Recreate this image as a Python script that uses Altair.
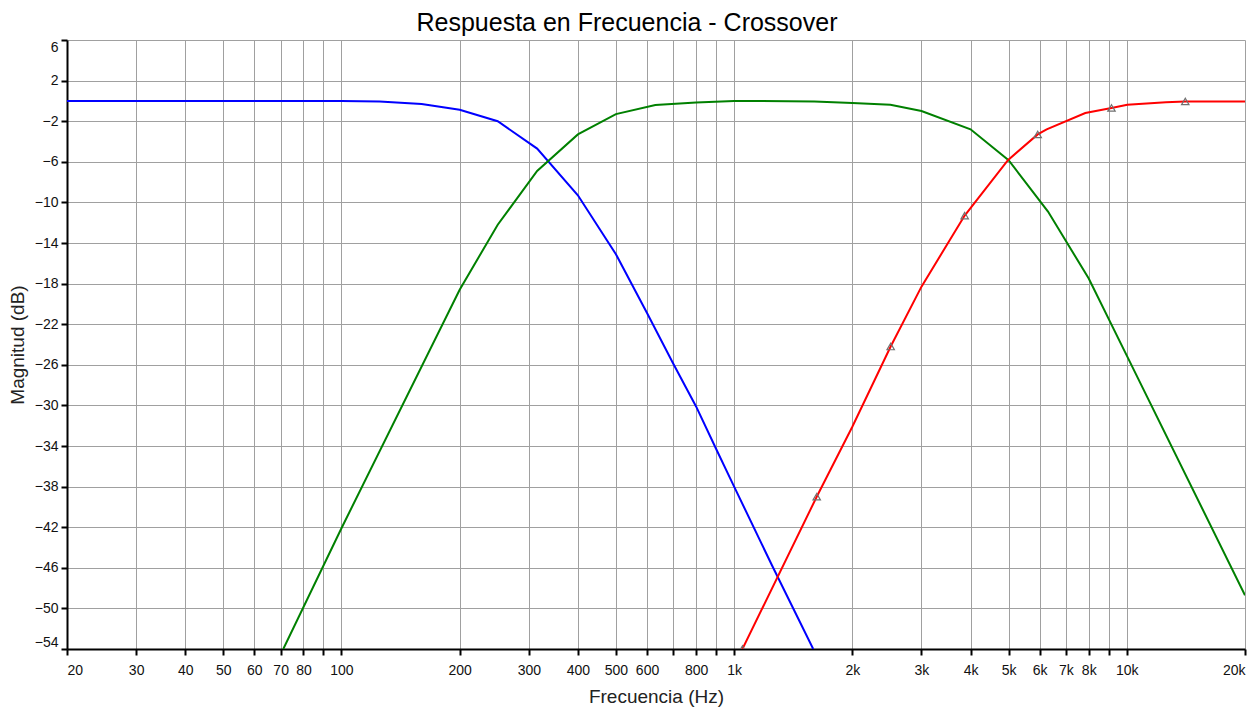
import altair as alt
import pandas as pd

# ---- data ----
blue_freq = [20, 50, 100, 125, 160, 200, 250, 315, 400, 500, 600, 700, 800, 900, 1000, 1250,
             1590]
blue_db = [0, 0, 0, -0.05, -0.3, -0.88, -2.0, -4.7, -9.3, -15.1, -20.9, -25.9, -30.1, -34.3,
           -38.0, -45.8, -54]

green_freq = [71.1, 100, 200, 250, 315, 400, 500, 630, 800, 1000, 1600, 2000, 2500, 3000,
              4000, 5000, 6300, 8000, 10000, 20000]
green_db = [-54, -42.1, -18.6, -12.2, -6.9, -3.3, -1.3, -0.4, -0.15, 0, -0.05, -0.2, -0.37,
            -1.0, -2.8, -5.84, -10.9, -17.5, -25.1, -48.7]

red_freq = [1050, 1623, 2000, 2504, 3000, 3865, 4980, 5930, 6250, 7840, 9140, 10030, 12580,
            14090, 20000]
red_db = [-54, -39.0, -32.1, -24.2, -18.3, -11.3, -5.84, -3.3, -2.8, -1.2, -0.7, -0.37,
          -0.14, -0.05, -0.05]

marker_freq = [1050, 1623, 2504, 3865, 5930, 9140, 14090]
marker_db = [-54, -39.0, -24.2, -11.3, -3.3, -0.7, -0.05]

series_names = ["Graves", "Medios", "Agudos"]
series_colors = ["#0000ff", "#008000", "#ff0000"]

x_tick_values = [20, 30, 40, 50, 60, 70, 80, 90, 100, 200, 300, 400, 500, 600, 700, 800, 900,
                 1000, 2000, 3000, 4000, 5000, 6000, 7000, 8000, 9000, 10000, 20000]
x_tick_labels = ["20", "30", "40", "50", "60", "70", "80", "", "100", "200", "300", "400",
                 "500", "600", "", "800", "", "1k", "2k", "3k", "4k", "5k", "6k", "7k", "8k",
                 "", "10k", "20k"]
y_tick_values = [6, 2, -2, -6, -10, -14, -18, -22, -26, -30, -34, -38, -42, -46, -50, -54]

# ---- build tables ----
rows = []
for name, fs, ds in zip(series_names, [blue_freq, green_freq, red_freq],
                        [blue_db, green_db, red_db]):
    for f, d in zip(fs, ds):
        rows.append({"serie": name, "freq": f, "db": d})
df = pd.DataFrame(rows)
markers = pd.DataFrame({"freq": marker_freq, "db": marker_db})

label_expr = " : ".join(
    f"datum.value == {v} ? '{l}'" for v, l in zip(x_tick_values, x_tick_labels)
) + " : ''"

FONT = "Liberation Sans"

x_enc = alt.X(
    "freq:Q",
    scale=alt.Scale(type="log", domain=[20, 20000], nice=False),
    axis=alt.Axis(
        title="Frecuencia (Hz)",
        values=x_tick_values,
        labelExpr=label_expr,
        labelFlush=True,
        labelOverlap=False,
        tickSize=6,
        labelPadding=8,
        titlePadding=10,
    ),
)
y_enc = alt.Y(
    "db:Q",
    scale=alt.Scale(domain=[-54, 6], nice=False, zero=False),
    axis=alt.Axis(
        title="Magnitud (dB)",
        values=y_tick_values,
        labelFlush=True,
        labelOverlap=False,
        tickSize=6,
        labelPadding=3,
        titlePadding=7,
    ),
)

lines = alt.Chart(df).mark_line(strokeWidth=2, clip=True).encode(
    x=x_enc,
    y=y_enc,
    color=alt.Color("serie:N", scale=alt.Scale(domain=series_names, range=series_colors),
                    legend=None),
)

pts = alt.Chart(markers).mark_point(
    shape="triangle-up", filled=False, color="#707070", size=55, strokeWidth=1.2, opacity=1,
    clip=True
).encode(x="freq:Q", y="db:Q")

chart = (
    alt.layer(lines, pts)
    .properties(
        width=1178,
        height=609,
        title=alt.TitleParams("Respuesta en Frecuencia - Crossover", fontSize=25, font=FONT,
                              fontWeight="normal", color="black", offset=3, dx=-29),
        autosize=alt.AutoSizeParams(type="none"),
        padding={"left": 59, "top": 32, "right": 2, "bottom": 58},
    )
    .configure_view(strokeWidth=0)
    .configure_axis(
        domainColor="black",
        domainWidth=2,
        tickColor="black",
        tickWidth=2,
        gridColor="#a0a0a0",
        gridWidth=1,
        gridOpacity=1,
        labelFont=FONT,
        labelFontSize=14,
        labelColor="#111111",
        titleFont=FONT,
        titleFontSize=19,
        titleFontWeight="normal",
        titleColor="#222222",
    )
)

chart.save("out.html", embed_options={"renderer": "svg", "actions": False})
